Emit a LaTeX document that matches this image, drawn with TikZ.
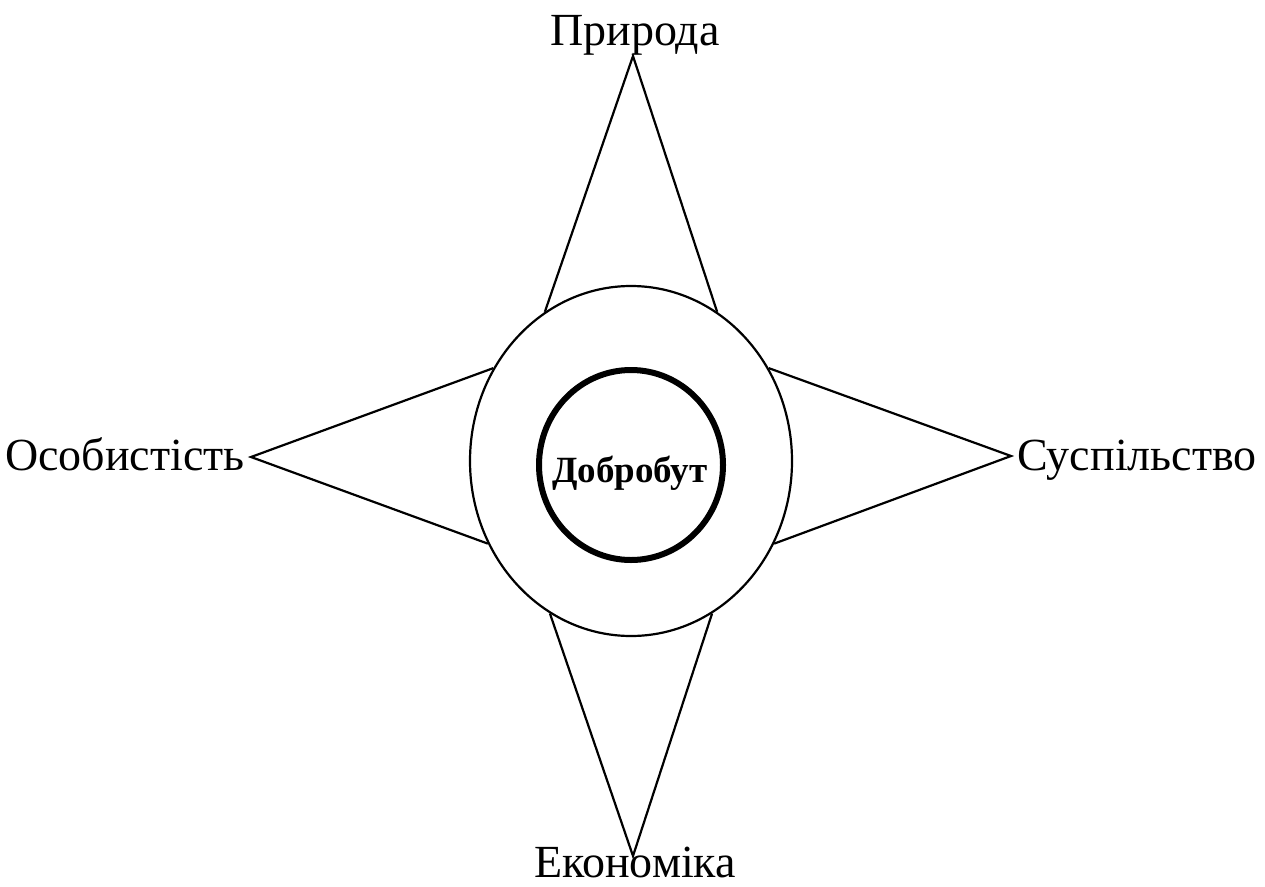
\documentclass[tikz,border=0pt]{standalone}
\usepackage{fontspec}
\setmainfont{Liberation Serif}
\usetikzlibrary{shapes.geometric}
\begin{document}
\begin{tikzpicture}[x=1pt,y=-1pt,
  spoke/.style={line width=2.2pt,line join=miter},
  lbl/.style={font=\fontsize{46}{50}\selectfont,inner sep=0pt,anchor=base},
  ring/.style={ellipse,draw,inner sep=0pt}]
\useasboundingbox (0,0) rectangle (1265,886);
\node[ring,line width=2.2pt,minimum width=322pt,minimum height=350pt] (outer) at (631,461) {};
\node[ring,line width=6pt,minimum width=184pt,minimum height=190pt] (inner) at (631,465) {};
\node[inner sep=0pt,anchor=base,font=\fontsize{37}{40}\selectfont\bfseries] (wb) at (630,482) {Добробут};
\coordinate (tN) at (633,56);
\coordinate (tS) at (633,856);
\coordinate (tW) at (251,457);
\coordinate (tE) at (1011,456);
\draw[spoke] (outer.120) -- (tN) -- (outer.60);
\draw[spoke] (outer.242) -- (tS) -- (outer.298);
\draw[spoke] (outer.146) -- (tW) -- (outer.210);
\draw[spoke] (outer.34) -- (tE) -- (outer.330);
\node[lbl] (nat) at (635,45) {Природа};
\node[lbl] (eco) at (635,877) {Економіка};
\node[lbl] (per) at (125,470) {Особистість};
\node[lbl] (soc) at (1137,470) {Суспільство};
\end{tikzpicture}
\end{document}
